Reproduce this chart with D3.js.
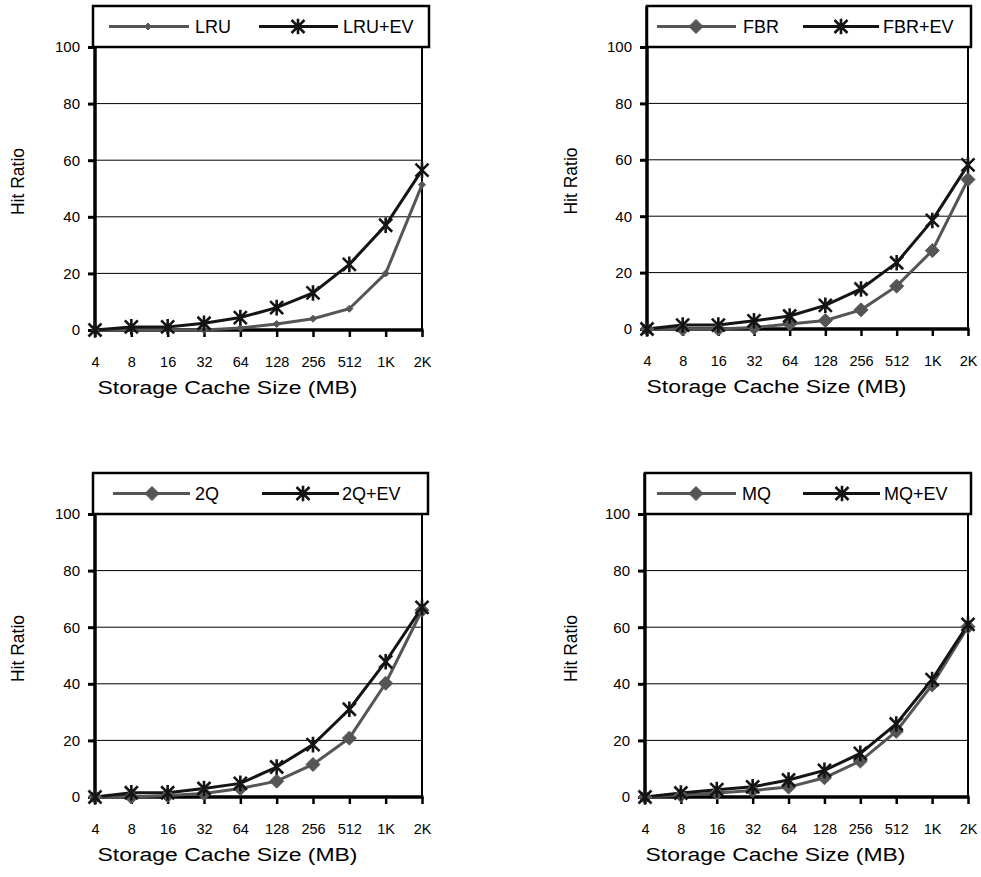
<!DOCTYPE html>
<html>
<head>
<meta charset="utf-8">
<script src="https://cdn.jsdelivr.net/npm/d3@7"></script>
<style>
  body { margin: 0; background: #fff; }
  svg text { font-family: "Liberation Sans", Arial, sans-serif; fill: #000; }
</style>
</head>
<body>
<div id="main-vis"></div>
<script>
// cache sizes on the x axis
const sizes = ["4", "8", "16", "32", "64", "128", "256", "512", "1K", "2K"]
const yTicks = [0, 20, 40, 60, 80, 100]

// hit ratios
const lru    = [0, 0, 0, 0, 0.7, 2.1, 4, 7.5, 20, 51.3]
const lruEv  = [0, 1.1, 1.1, 2.4, 4.4, 7.9, 13.1, 23.2, 37, 56.5]
const fbr    = [0, 0, 0, 0.5, 1.8, 3, 6.8, 15.2, 27.8, 53]
const fbrEv  = [0, 1.4, 1.4, 2.9, 4.6, 8.4, 14.2, 23.5, 38.5, 58.2]
const twoQ   = [0, 0, 0.5, 1.2, 3, 5.6, 11.5, 20.8, 40.2, 66]
const twoQEv = [0, 1.5, 1.5, 3, 4.8, 10.6, 18.5, 31, 47.8, 67]
const mq     = [0, 0.6, 1.4, 2.3, 3.5, 6.8, 12.7, 23.2, 39.6, 60.2]
const mqEv   = [0, 1.4, 2.6, 3.6, 6, 9.4, 15.4, 25.8, 41.5, 61]

const panels = [
  {base: "LRU", a: lru, b: lruEv, small: true,
   x0: 95, x1: 422, y0: 330, y100: 47, legTop: 6, legL: 93, legR: 429,
   leg: [16, 55, 96, 102, 166, 205, 245, 250], titleX: 18},
  {base: "FBR", a: fbr, b: fbrEv, small: false,
   x0: 647, x1: 968, y0: 329, y100: 47, legTop: 6, legL: 647, legR: 971,
   leg: [10, 49, 89, 96, 156, 194, 232, 236], titleX: 571},
  {base: "2Q", a: twoQ, b: twoQEv, small: false,
   x0: 95, x1: 422, y0: 797, y100: 514, legTop: 473, legL: 93, legR: 428,
   leg: [20, 59, 97, 102, 169, 210, 246, 249], titleX: 18},
  {base: "MQ", a: mq, b: mqEv, small: false,
   x0: 645, x1: 968, y0: 797, y100: 514, legTop: 473, legL: 645, legR: 971,
   leg: [12, 51, 91, 97, 158, 197, 235, 239], titleX: 571}
]

const grey = "#555"
const dark = "#141414"

const svg = d3.select("#main-vis").append("svg")
  .attr("width", 981)
  .attr("height", 877)

function diamond(r) {
  return `M0,${-r}L${r},0L0,${r}L${-r},0Z`
}
function star(r) {
  return `M${-r},${-r}L${r},${r}M${-r},${r}L${r},${-r}M0,${-r * 1.2}L0,${r * 1.2}`
}

function marker(g, kind, small) {
  if (kind === "b") {
    g.append("path").attr("d", star(6.5))
      .attr("stroke", dark).attr("stroke-width", 2.6).attr("fill", "none")
  } else {
    g.append("path").attr("d", diamond(small ? 3.5 : 7))
      .attr("fill", grey).attr("stroke", grey).attr("stroke-width", 1)
  }
}

panels.forEach(p => {
  const x = d3.scalePoint().domain(sizes).range([p.x0, p.x1])
  const y = d3.scaleLinear().domain([0, 100]).range([p.y0, p.y100])
  const g = svg.append("g")

  // gridlines
  g.selectAll(".grid").data(yTicks.slice(1, 5)).join("line")
    .attr("x1", p.x0).attr("x2", p.x1)
    .attr("y1", d => y(d)).attr("y2", d => y(d))
    .attr("stroke", "#000").attr("stroke-width", 1)

  // right border of plot area
  g.append("line").attr("x1", p.x1).attr("x2", p.x1)
    .attr("y1", y(100)).attr("y2", y(0))
    .attr("stroke", "#000").attr("stroke-width", 2)

  // y axis
  const yAxis = g.append("g").attr("transform", `translate(${p.x0},0)`)
    .call(d3.axisLeft(y).tickValues(yTicks).tickSize(7).tickPadding(8))
  yAxis.select(".domain").remove()
  yAxis.selectAll(".tick line").attr("stroke", "#000").attr("stroke-width", 3)
  yAxis.selectAll(".tick text").attr("font-size", 15)
    .attr("font-family", "Liberation Sans, Arial, sans-serif")

  // x axis
  const xAxis = g.append("g").attr("transform", `translate(0,${p.y0})`)
    .call(d3.axisBottom(x).tickSize(7).tickPadding(20))
  xAxis.select(".domain").remove()
  xAxis.selectAll(".tick line").attr("stroke", "#000").attr("stroke-width", 2.5)
  xAxis.selectAll(".tick text").attr("font-size", 14.5)
    .attr("font-family", "Liberation Sans, Arial, sans-serif")

  // axis lines
  g.append("line").attr("x1", p.x0).attr("x2", p.x1 + 1.5)
    .attr("y1", p.y0).attr("y2", p.y0)
    .attr("stroke", "#000").attr("stroke-width", 3.5)
  g.append("line").attr("x1", p.x0).attr("x2", p.x0)
    .attr("y1", p.legTop).attr("y2", p.y0 + 1.5)
    .attr("stroke", "#000").attr("stroke-width", 3.5)

  // series
  const line = d3.line().x((d, i) => x(sizes[i])).y(d => y(d))
  g.append("path").datum(p.a).attr("d", line)
    .attr("fill", "none").attr("stroke", grey).attr("stroke-width", 3)
  g.append("path").datum(p.b).attr("d", line)
    .attr("fill", "none").attr("stroke", dark).attr("stroke-width", 3)

  p.a.forEach((v, i) => {
    marker(g.append("g").attr("transform", `translate(${x(sizes[i])},${y(v)})`), "a", p.small)
  })
  p.b.forEach((v, i) => {
    marker(g.append("g").attr("transform", `translate(${x(sizes[i])},${y(v)})`), "b", p.small)
  })

  // legend box
  const legBottom = y(100)
  g.append("rect")
    .attr("x", p.legL).attr("y", p.legTop)
    .attr("width", p.legR - p.legL).attr("height", legBottom - p.legTop)
    .attr("fill", "#fff").attr("stroke", "#000").attr("stroke-width", 2.5)
  const ly = (p.legTop + legBottom) / 2
  const L = p.leg
  g.append("line").attr("x1", p.legL + L[0]).attr("x2", p.legL + L[2])
    .attr("y1", ly).attr("y2", ly).attr("stroke", grey).attr("stroke-width", 3)
  marker(g.append("g").attr("transform", `translate(${p.legL + L[1]},${ly})`), "a", p.small)
  g.append("text").attr("x", p.legL + L[3]).attr("y", ly).attr("dy", "0.35em")
    .attr("font-size", 18).text(p.base)
  g.append("line").attr("x1", p.legL + L[4]).attr("x2", p.legL + L[6])
    .attr("y1", ly).attr("y2", ly).attr("stroke", dark).attr("stroke-width", 3)
  marker(g.append("g").attr("transform", `translate(${p.legL + L[5]},${ly})`), "b", p.small)
  g.append("text").attr("x", p.legL + L[7]).attr("y", ly).attr("dy", "0.35em")
    .attr("font-size", 18).text(p.base + "+EV")

  // axis titles
  g.append("text")
    .attr("x", (p.x0 + p.x1) / 2 - 31).attr("y", p.y0 + 64)
    .attr("text-anchor", "middle").attr("font-size", 18)
    .attr("textLength", 260).attr("lengthAdjust", "spacingAndGlyphs")
    .text("Storage Cache Size (MB)")
  g.append("text")
    .attr("transform", `translate(${p.titleX + 6},${(p.y0 + y(100)) / 2 - 7}) rotate(-90)`)
    .attr("text-anchor", "middle").attr("font-size", 17.5)
    .text("Hit Ratio")
})
</script>
</body>
</html>
